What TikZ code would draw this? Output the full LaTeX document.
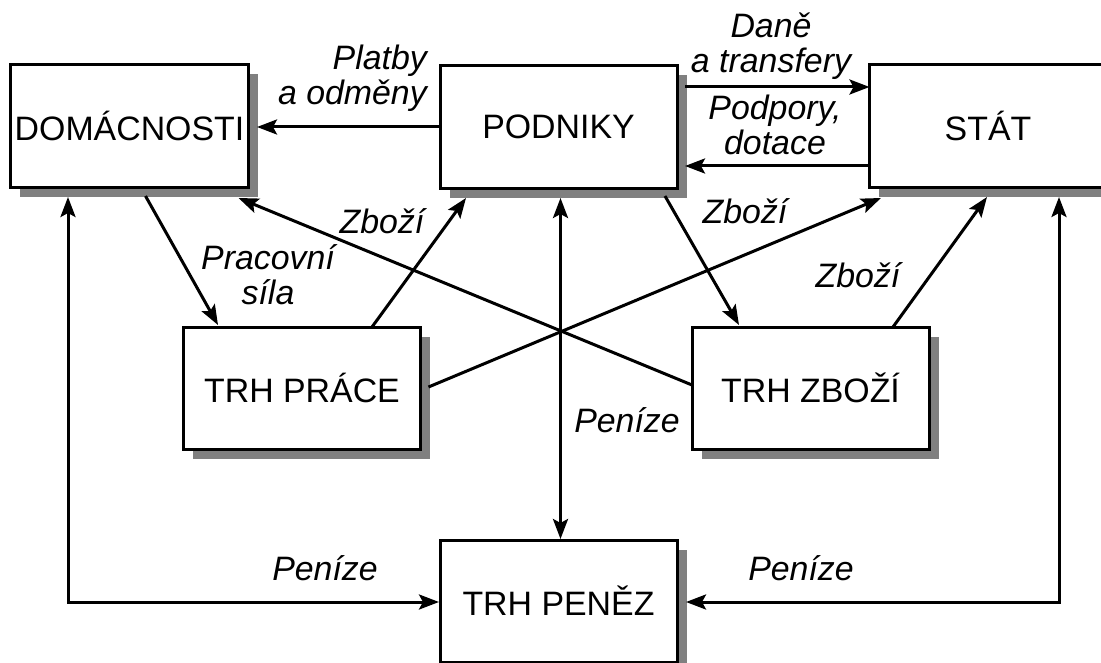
\documentclass[tikz,border=0pt]{standalone}
\usepackage{fontspec}
\setmainfont{Liberation Sans}
\usetikzlibrary{arrows.meta,shadows,calc}
\definecolor{shadowgray}{RGB}{128,128,128}
\begin{document}
\begin{tikzpicture}[x=1bp,y=-1bp,
  box/.style={draw=black, line width=3bp, fill=white, minimum width=237bp, minimum height=122bp,
    inner sep=0pt, outer sep=0pt, font=\fontsize{34}{36}\selectfont,
    drop shadow={shadow xshift=9.5bp, shadow yshift=-9.5bp, fill=shadowgray, opacity=1}},
  lbl/.style={font=\fontsize{34}{35}\selectfont\itshape, inner sep=0pt, align=center},
  tip/.tip={Stealth[length=20bp,width=15bp,inset=4bp]},
  arr/.style={line width=3bp, -tip},
  darr/.style={line width=3bp, tip-tip}]
\useasboundingbox (0,0) rectangle (1101,663);
\clip (0,0) rectangle (1101,663);
% boxes
\node[box] (dom) at (129.5,126) {DOMÁCNOSTI};
\node[box] (pod) at (558.5,127) {PODNIKY};
\node[box] (stat) at (988,126) {STÁT};
\node[box] (prace) at (302,388) {TRH PRÁCE};
\node[box] (zbozi) at (810.5,388) {TRH ZBOŽÍ};
\node[box] (penez) at (558.5,601) {TRH PENĚZ};
% connectors
\draw[arr] (pod.west) -- ($(dom.east)+(9,1)$);
\draw[arr] ($(pod.east)+(8,-40)$) -- ($(stat.west)+(0,-39)$);
\draw[arr] ($(stat.west)+(-2,40)$) -- ($(pod.east)+(8,39)$);
\draw[arr] ($(dom.south)+(16,9)$) -- ($(prace.north)+(-84,-2)$);
\draw[arr] ($(prace.north)+(70,0)$) -- ($(pod.south)+(-92.5,10)$);
\draw[arr] ($(prace.east)+(8,-1)$) -- ($(stat.south)+(-107,11)$);
\draw[arr] ($(zbozi.west)+(0,-3)$) -- ($(dom.south east)+(-9.5,11)$);
\draw[arr] ($(pod.south)+(106.5,8)$) -- ($(zbozi.north)+(-71.5,-2)$);
\draw[arr] ($(zbozi.north)+(82.5,0)$) -- ($(stat.south)+(-1,10)$);
\draw[darr] ($(pod.south)+(2,10)$) -- ($(penez.north)+(2,-1)$);
\draw[darr] ($(dom.south)+(-61.5,10)$) |- ($(penez.west)+(-1,1)$);
\draw[darr] ($(stat.south)+(71,10)$) |- ($(penez.east)+(9,1)$);
% labels
\node[lbl, anchor=east, align=right] (l1) at (427,78) {Platby\\a odměny};
\node[lbl] (l2) at (771,46) {Daně\\a transfery};
\node[lbl] (l3) at (775,125) {Podpory,\\dotace};
\node[lbl] (l4) at (268,275) {Pracovní\\síla};
\node[lbl] (l5) at (382,221) {Zboží};
\node[lbl] (l6) at (745,211) {Zboží};
\node[lbl] (l7) at (858,275) {Zboží};
\node[lbl] (l8) at (627,420) {Peníze};
\node[lbl] (l9) at (325,568) {Peníze};
\node[lbl] (l10) at (801,568) {Peníze};
\end{tikzpicture}
\end{document}
